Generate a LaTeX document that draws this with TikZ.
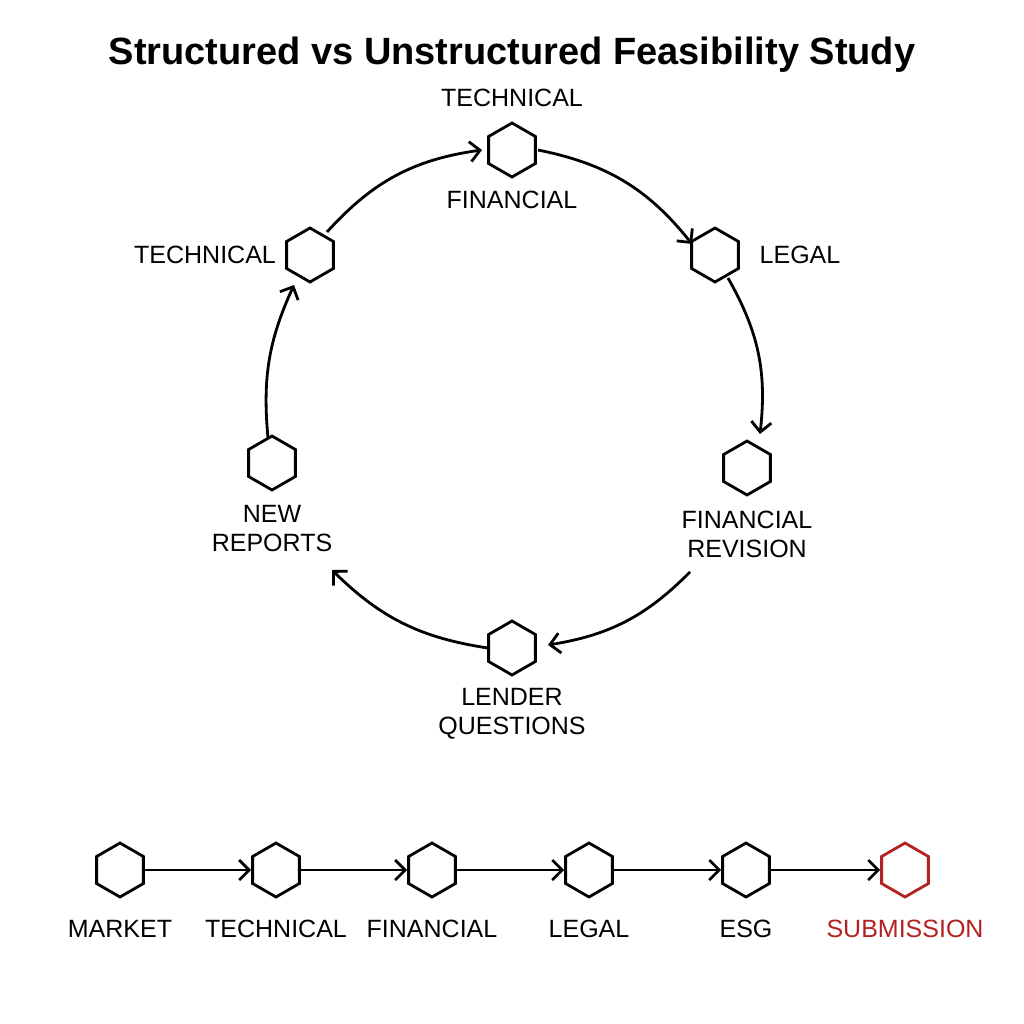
\documentclass[tikz,border=0pt]{standalone}
\usepackage{fontspec}
\setmainfont{Liberation Sans}
\usetikzlibrary{shapes.geometric,arrows.meta}
\definecolor{dred}{HTML}{B22222}
\begin{document}
\begin{tikzpicture}[x=1pt,y=-1pt,
 hex/.style={draw,regular polygon,regular polygon sides=6,shape border rotate=30,minimum size=54pt,inner sep=0pt,line width=2.8pt},
 lab/.style={font=\fontsize{25}{29}\selectfont,align=center},
 arr/.style={line width=2.8pt,-{Straight Barb[length=10pt,width=20pt,line width=2.8pt]}}]
\useasboundingbox (0,0) rectangle (1024,1024);
\node[font=\bfseries\fontsize{38}{44}\selectfont] (title) at (512,55) {Structured vs Unstructured Feasibility Study};
\node[hex] (h1) at (512,150) {};
\node[hex] (h2) at (715,255) {};
\node[hex] (h3) at (747,468) {};
\node[hex] (h4) at (512,648) {};
\node[hex] (h5) at (272,463) {};
\node[hex] (h6) at (310,255) {};
\node[lab] (l1a) at (512,98) {TECHNICAL};
\node[lab] (l1b) at (512,200) {FINANCIAL};
\node[lab] (l2) at (800,255) {LEGAL};
\node[lab] (l3) at (747,534) {FINANCIAL\\REVISION};
\node[lab] (l4) at (512,714) {LENDER\\QUESTIONS};
\node[lab] (l5) at (272,529) {NEW\\REPORTS};
\node[lab] (l6) at (205,255) {TECHNICAL};
\coordinate (c6) at (327,232);
\coordinate (c1) at (482,150);
\coordinate (c1e) at (538,150);
\coordinate (c2) at (692,244);
\coordinate (c2s) at (728,278);
\coordinate (c3) at (760,434);
\coordinate (c3s) at (690,572);
\coordinate (c4) at (548,645);
\coordinate (c4w) at (488,648);
\coordinate (c5) at (332,570);
\coordinate (c5n) at (268,438);
\coordinate (c6s) at (294,285);
\draw[arr] (c6) to[bend left=20] (c1);
\draw[arr] (c1e) to[bend left=20] (c2);
\draw[arr] (c2s) to[bend left=18] (c3);
\draw[arr] (c3s) to[bend left=18] (c4);
\draw[arr] (c4w) to[bend left=18] (c5);
\draw[arr] (c5n) to[bend left=15] (c6s);
\foreach \i/\x/\t in {1/120/MARKET,2/276/TECHNICAL,3/432/FINANCIAL,4/589/LEGAL,5/746/ESG}{
 \node[hex] (b\i) at (\x,870) {};
 \node[lab] (bl\i) at (\x,929) {\t};
}
\node[hex,draw=dred] (b6) at (905,870) {};
\node[lab,text=dred] (bl6) at (905,929) {SUBMISSION};
\foreach \i/\j in {1/2,2/3,3/4,4/5,5/6}{\draw[arr] (b\i.east) -- (b\j.west);}
\end{tikzpicture}
\end{document}
